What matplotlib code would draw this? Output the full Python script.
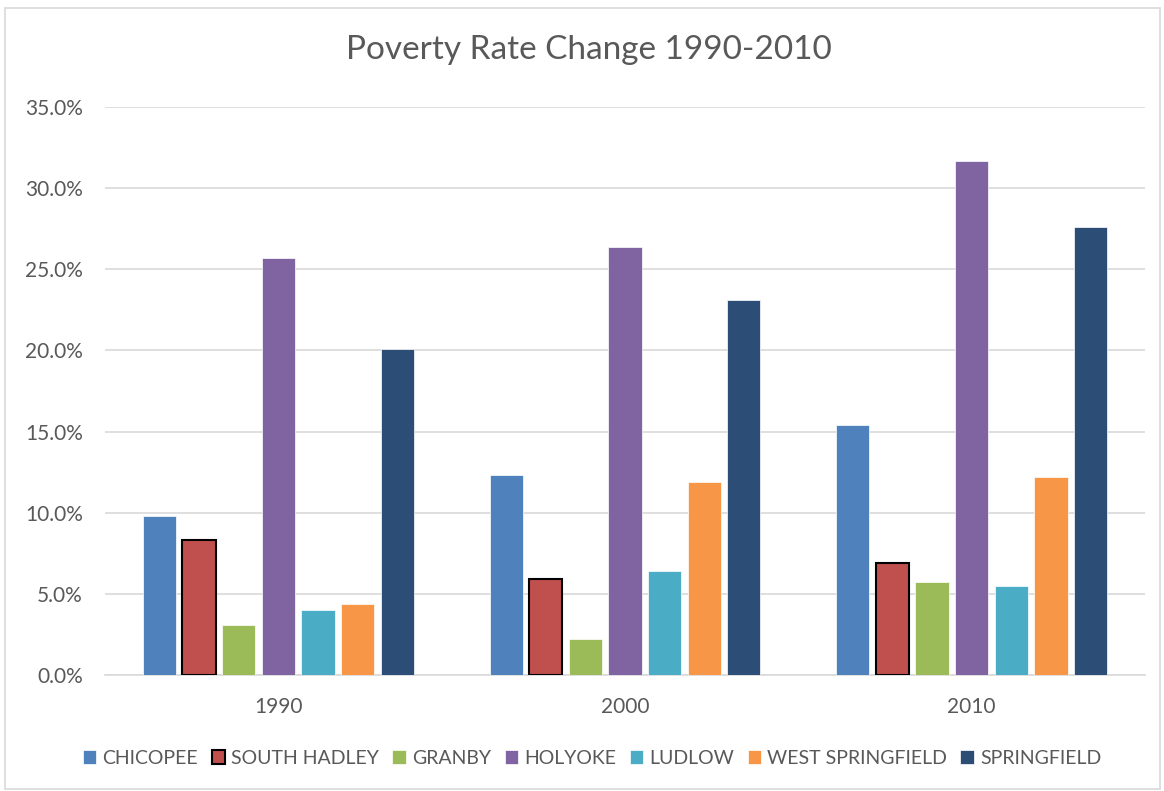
import numpy as np
import matplotlib
matplotlib.use("Agg")
import matplotlib.pyplot as plt
from matplotlib.patches import Rectangle
from matplotlib.ticker import FuncFormatter

# data
years = ["1990", "2000", "2010"]
towns = ["CHICOPEE", "SOUTH HADLEY", "GRANBY", "HOLYOKE", "LUDLOW",
         "WEST SPRINGFIELD", "SPRINGFIELD"]
chicopee = [9.8, 12.3, 15.4]
south_hadley = [8.3, 5.9, 6.9]
granby = [3.1, 2.2, 5.7]
holyoke = [25.7, 26.4, 31.7]
ludlow = [4.0, 6.4, 5.5]
west_springfield = [4.4, 11.9, 12.2]
springfield = [20.1, 23.1, 27.6]

series = [chicopee, south_hadley, granby, holyoke, ludlow, west_springfield, springfield]
colors = ["#4F81BD", "#C0504D", "#9BBB59", "#8064A2", "#4BACC6", "#F79646", "#2C4D75"]

plt.rcParams['font.family'] = ['Lato', 'DejaVu Sans']
TXT = "#595959"

fig = plt.figure(figsize=(11.64, 7.91), dpi=100)
ax = fig.add_axes([105/1164, 1 - 675/791, (1145-105)/1164, (675-107)/791])

x = np.arange(len(years))
slot = 0.8 / len(towns)
width = slot * 0.84
for i, (name, vals, c) in enumerate(zip(towns, series, colors)):
    pos = x - 0.4 + slot * (i + 0.5)
    if name == "SOUTH HADLEY":
        ax.bar(pos, vals, width, color=c, edgecolor="black", linewidth=1.5, label=name, zorder=3)
    else:
        ax.bar(pos, vals, width, color=c, edgecolor="white", linewidth=0.5, label=name, zorder=3)

ax.set_xlim(-0.5, 2.5)
ax.set_ylim(0, 35)
ax.set_yticks(np.arange(0, 36, 5))
ax.yaxis.set_major_formatter(FuncFormatter(lambda v, p: f"{v:.1f}%"))
ax.set_xticks(x)
ax.set_xticklabels(years)
ax.grid(axis="y", color="#D9D9D9", linewidth=1.2, zorder=0)
for s in ["top", "right", "left"]:
    ax.spines[s].set_visible(False)
ax.spines["bottom"].set_color("#D9D9D9")
ax.spines["bottom"].set_linewidth(1.2)
ax.tick_params(axis="both", length=0, labelsize=15, colors=TXT)
ax.tick_params(axis="y", pad=16)
ax.tick_params(axis="x", pad=16)

fig.text(0.5 + 7/1164, 1 - 50/791, "Poverty Rate Change 1990-2010", ha="center", va="center",
         fontsize=24, color=TXT)

fig.legend(loc="center", bbox_to_anchor=(0.5 + 10/1164, 1 - 758/791), ncol=7, frameon=False,
           fontsize=14, handlelength=0.7, handleheight=0.7, handletextpad=0.3,
           columnspacing=0.7, labelcolor=TXT)

fig.patches.append(Rectangle((5/1164, 0.002), 1155/1164, 1 - 8/791 - 0.002,
                             transform=fig.transFigure, fill=False,
                             edgecolor="#D9D9D9", linewidth=1.2))

fig.savefig("out.png", dpi=100, facecolor="white")
